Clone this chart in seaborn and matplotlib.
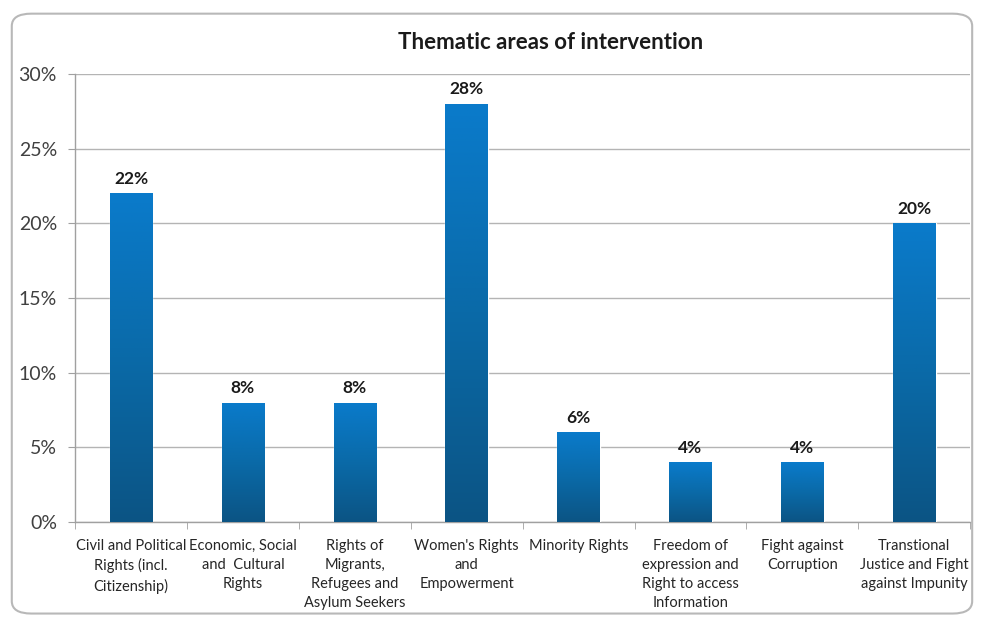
import numpy as np
import pandas as pd
import matplotlib
matplotlib.use("Agg")
import matplotlib.pyplot as plt
import seaborn as sns
from matplotlib.colors import LinearSegmentedColormap
from matplotlib.patches import FancyBboxPatch
from matplotlib.ticker import FuncFormatter, MultipleLocator


AREAS = ["Civil and Political\nRights (incl.\nCitizenship)",
         "Economic, Social\nand  Cultural\nRights",
         "Rights of\nMigrants,\nRefugees and\nAsylum Seekers",
         "Women's Rights\nand\nEmpowerment",
         "Minority Rights",
         "Freedom of\nexpression and\nRight to access\nInformation",
         "Fight against\nCorruption",
         "Transtional\nJustice and Fight\nagainst Impunity"]
SHARES = [22, 8, 8, 28, 6, 4, 4, 20]
TITLE = "Thematic areas of intervention"

sns.set_style("white")
plt.rcParams["font.family"] = ["Lato", "DejaVu Sans"]

data = pd.DataFrame({"Area": AREAS, "Share": SHARES})

fig = plt.figure(figsize=(9.82, 6.21), dpi=100)
ax = fig.add_axes([0.0764, 0.1594, 0.9116, 0.7214])

# rounded frame around the whole chart
frame = FancyBboxPatch((0.012, 0.012), 0.978, 0.966, boxstyle="round,pad=0,rounding_size=0.02",
                       transform=fig.transFigure, facecolor="none", edgecolor="#b8b8b8",
                       linewidth=1.5, zorder=-5)
fig.patches.append(frame)

sns.barplot(data=data, x="Area", y="Share", color="#0a74c2", width=0.38, ax=ax, zorder=3)

# vertical gradient inside each bar, bright at top, dark at bottom
cmap = LinearSegmentedColormap.from_list("bar", ["#0c5484", "#0a6aa8", "#0a7bcb"])
grad = np.linspace(0, 1, 256).reshape(-1, 1)
for patch in ax.patches:
    x0, y0 = patch.get_x(), patch.get_y()
    w, h = patch.get_width(), patch.get_height()
    im = ax.imshow(grad, extent=[x0, x0 + w, y0, y0 + h], origin="lower", cmap=cmap,
                   aspect="auto", zorder=4)
    im.set_clip_path(patch)

for i, v in enumerate(SHARES):
    ax.text(i, v + 0.45, f"{v}%", ha="center", va="bottom", fontsize=12.5, fontweight="bold",
            color="#1a1a1a", zorder=5)

ax.set_xlim(-0.5, len(AREAS) - 0.5)
ax.set_ylim(0, 30)
ax.yaxis.set_major_locator(MultipleLocator(5))
ax.yaxis.set_major_formatter(FuncFormatter(lambda v, p: f"{v:.0f}%"))
ax.grid(True, axis="y", color="#b4b4b4", linewidth=1)
ax.set_axisbelow(True)

ax.set_xlabel("")
ax.set_ylabel("")
ax.tick_params(axis="y", labelsize=14, labelcolor="#404040", length=5, color="#a0a0a0",
               direction="out", left=True, pad=8)
ax.tick_params(axis="x", which="major", length=0, labelsize=10.5, labelcolor="#262626", pad=12)
ax.set_xticks(np.arange(-0.5, len(AREAS)), minor=True)
ax.tick_params(axis="x", which="minor", length=5, color="#a0a0a0", direction="out", bottom=True)
for lbl in ax.get_xticklabels():
    lbl.set_ha("center")
    lbl.set_multialignment("center")
    lbl.set_va("top")
    lbl.set_linespacing(1.45)

for side in ["top", "right"]:
    ax.spines[side].set_visible(False)
for side in ["left", "bottom"]:
    ax.spines[side].set_color("#a0a0a0")
    ax.spines[side].set_linewidth(1)

fig.text(0.561, 0.932, TITLE, ha="center", va="center", fontsize=16, fontweight="bold",
         color="#1a1a1a")

fig.savefig("out.png", dpi=100)
